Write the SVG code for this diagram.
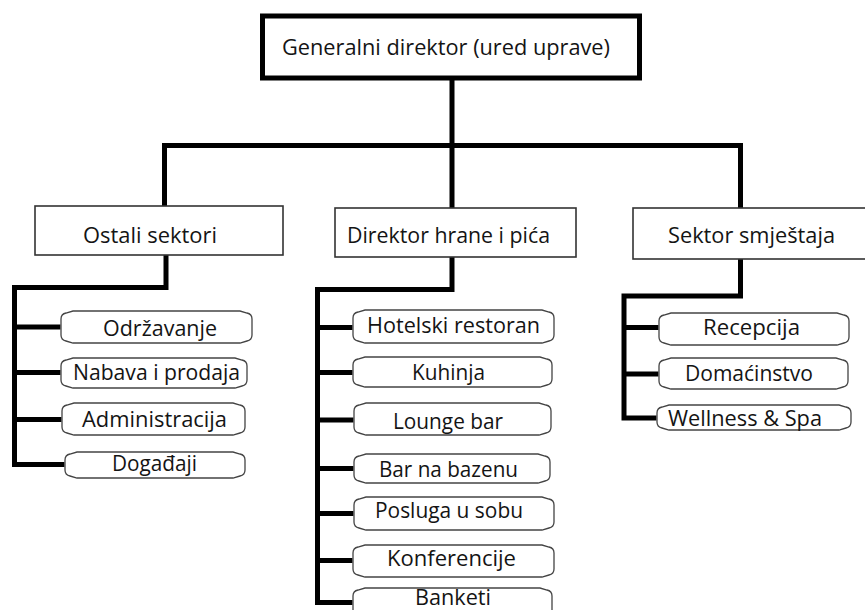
<svg xmlns="http://www.w3.org/2000/svg" width="865" height="610" viewBox="0 0 865 610">
<style>
text{font-family:"Open Sans","Noto Sans","Liberation Sans",sans-serif;font-size:22px;fill:#141414;text-anchor:middle}
.top{fill:#fff;stroke:#000;stroke-width:5}
.sec{fill:#fff;stroke:#333;stroke-width:1.6}
.unit{fill:#fff;stroke:#444;stroke-width:1.3}
.conn{fill:none;stroke:#000;stroke-width:5;stroke-linejoin:miter;stroke-linecap:square}
</style>
<rect width="865" height="610" fill="#fff"/>
<g id="connectors" class="conn">
<path d="M452 80V145.5M164.5 206V145.5H740.5V207M452 145.5V208"/>
<path d="M166 255V287.5H14.5V464.5H62M14.5 327H58M14.5 372.5H58M14.5 419.5H59"/>
<path d="M452 257V289.5H317.5V602.5H350M317.5 327.5H350M317.5 372.5H350M317.5 420H351M317.5 468.5H351M317.5 513.5H351M317.5 560.5H350"/>
<path d="M740.5 260V296H624V418H654M624 327.5H656M624 374H656"/>
</g>
<g id="n-top"><rect class="top" x="262.5" y="16" width="377" height="62"/><text x="446" y="55" textLength="328" lengthAdjust="spacingAndGlyphs">Generalni direktor (ured uprave)</text></g>
<g id="n-ostali"><rect class="sec" x="35" y="206" width="248" height="49"/><text x="150" y="243" textLength="134" lengthAdjust="spacingAndGlyphs">Ostali sektori</text></g>
<g id="n-hrana"><rect class="sec" x="335" y="208" width="241" height="49"/><text x="448.5" y="243" textLength="203" lengthAdjust="spacingAndGlyphs">Direktor hrane i pića</text></g>
<g id="n-smjestaj"><rect class="sec" x="633" y="208" width="234" height="51"/><text x="751.5" y="243" textLength="167" lengthAdjust="spacingAndGlyphs">Sektor smještaja</text></g>

<g id="n-odrzavanje"><path class="unit" d="M73 311H240L247 313Q252 314 252 319V335Q252 340 247 341L240 343H73L66 341Q61 340 61 335V319Q61 314 66 313Z"/><text x="160" y="336" textLength="114" lengthAdjust="spacingAndGlyphs">Održavanje</text></g>
<g id="n-nabava"><path class="unit" d="M73 358H235L242 360Q247 361 247 366V380Q247 385 242 386L235 388H73L66 386Q61 385 61 380V366Q61 361 66 360Z"/><text x="156.5" y="380" textLength="167" lengthAdjust="spacingAndGlyphs">Nabava i prodaja</text></g>
<g id="n-administracija"><path class="unit" d="M74 403H233L240 405Q245 406 245 411V427Q245 432 240 433L233 435H74L67 433Q62 432 62 427V411Q62 406 67 405Z"/><text x="154.5" y="427" textLength="145" lengthAdjust="spacingAndGlyphs">Administracija</text></g>
<g id="n-dogadaji"><path class="unit" d="M77 452H233L240 454Q245 455 245 460V470Q245 475 240 476L233 478H77L70 476Q65 475 65 470V460Q65 455 70 454Z"/><text x="154.5" y="471" textLength="85" lengthAdjust="spacingAndGlyphs">Događaji</text></g>

<g id="n-restoran"><path class="unit" d="M365 310H542L549 312Q554 313 554 318V335Q554 340 549 341L542 343H365L358 341Q353 340 353 335V318Q353 313 358 312Z"/><text x="453.5" y="333" textLength="173" lengthAdjust="spacingAndGlyphs">Hotelski restoran</text></g>
<g id="n-kuhinja"><path class="unit" d="M365 357H540L547 359Q552 360 552 365V379Q552 384 547 385L540 387H365L358 385Q353 384 353 379V365Q353 360 358 359Z"/><text x="448.5" y="380" textLength="73" lengthAdjust="spacingAndGlyphs">Kuhinja</text></g>
<g id="n-lounge"><path class="unit" d="M366 403H539L546 405Q551 406 551 411V427Q551 432 546 433L539 435H366L359 433Q354 432 354 427V411Q354 406 359 405Z"/><text x="448" y="429" textLength="110" lengthAdjust="spacingAndGlyphs">Lounge bar</text></g>
<g id="n-bazen"><path class="unit" d="M366 454H538L545 456Q550 457 550 462V475Q550 480 545 481L538 483H366L359 481Q354 480 354 475V462Q354 457 359 456Z"/><text x="448.5" y="477" textLength="139" lengthAdjust="spacingAndGlyphs">Bar na bazenu</text></g>
<g id="n-posluga"><path class="unit" d="M366 497H542L549 499Q554 500 554 505V522Q554 527 549 528L542 530H366L359 528Q354 527 354 522V505Q354 500 359 499Z"/><text x="449" y="518" textLength="148" lengthAdjust="spacingAndGlyphs">Posluga u sobu</text></g>
<g id="n-konferencije"><path class="unit" d="M365 545H542L549 547Q554 548 554 553V569Q554 574 549 575L542 577H365L358 575Q353 574 353 569V553Q353 548 358 547Z"/><text x="451.5" y="566" textLength="129" lengthAdjust="spacingAndGlyphs">Konferencije</text></g>
<g id="n-banketi"><path class="unit" d="M365 588H540L547 590Q552 591 552 596V612Q552 617 547 618L540 620H365L358 618Q353 617 353 612V596Q353 591 358 590Z"/><text x="453" y="605" textLength="76" lengthAdjust="spacingAndGlyphs">Banketi</text></g>

<g id="n-recepcija"><path class="unit" d="M671 313H837L844 315Q849 316 849 321V337Q849 342 844 343L837 345H671L664 343Q659 342 659 337V321Q659 316 664 315Z"/><text x="751.5" y="335" textLength="97" lengthAdjust="spacingAndGlyphs">Recepcija</text></g>
<g id="n-domacinstvo"><path class="unit" d="M671 358H836L843 360Q848 361 848 366V381Q848 386 843 387L836 389H671L664 387Q659 386 659 381V366Q659 361 664 360Z"/><text x="749" y="381" textLength="128" lengthAdjust="spacingAndGlyphs">Domaćinstvo</text></g>
<g id="n-wellness"><path class="unit" d="M669 405H839L846 407Q851 408 851 413V422Q851 427 846 428L839 430H669L662 428Q657 427 657 422V413Q657 408 662 407Z"/><text x="745" y="426" textLength="154" lengthAdjust="spacingAndGlyphs">Wellness &amp; Spa</text></g>
</svg>
